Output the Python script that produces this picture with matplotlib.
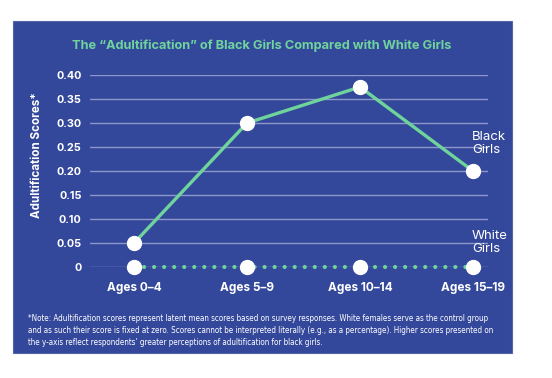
import matplotlib
matplotlib.use("Agg")
import matplotlib.pyplot as plt
from matplotlib.patches import Rectangle

# data
age_groups = ["Ages 0\u20134", "Ages 5\u20139", "Ages 10\u201314", "Ages 15\u201319"]
black_girls = [0.05, 0.30, 0.375, 0.20]
white_girls = [0.0, 0.0, 0.0, 0.0]
y_ticks = [0.0, 0.05, 0.10, 0.15, 0.20, 0.25, 0.30, 0.35, 0.40]
y_tick_labels = ["0", "0.05", "0.10", "0.15", "0.20", "0.25", "0.30", "0.35", "0.40"]

note = ("*Note: Adultification scores represent latent mean scores based on survey responses. White females serve as the control group\n"
        "and as such their score is fixed at zero. Scores cannot be interpreted literally (e.g., as a percentage). Higher scores presented on\n"
        "the y-axis reflect respondents\u2019 greater perceptions of adultification for black girls.")

BLUE = "#34489b"
GREEN = "#6fd49b"
GRID = "#8d97c9"

plt.rcParams['font.family'] = ['Inter', 'DejaVu Sans']

fig = plt.figure(figsize=(5.52, 3.78), dpi=100)
fig.patch.set_facecolor("white")
fig.patches.append(Rectangle((13 / 552, 25 / 378), 499 / 552, 332 / 378,
                             transform=fig.transFigure, facecolor=BLUE,
                             edgecolor="#5565aa", lw=0.8, zorder=-10))

ax = fig.add_axes([90 / 552, 111 / 378, 398 / 552, 192 / 378])
ax.set_facecolor("none")
x = list(range(len(age_groups)))

ax.plot(x, black_girls, color=GREEN, lw=2.4, zorder=3, clip_on=False)
ax.plot(x, white_girls, color=GREEN, lw=3.0, ls=(0, (0.01, 2.4)),
        dash_capstyle="round", zorder=3, clip_on=False)
ax.plot(x, black_girls, "o", ms=10, mfc="white", mec="white", zorder=4, clip_on=False)
ax.plot(x, white_girls, "o", ms=10, mfc="white", mec="white", zorder=4, clip_on=False)

ax.set_xlim(-0.39, 3.133)
ax.set_ylim(0, 0.40)
ax.set_yticks(y_ticks)
ax.set_yticklabels(y_tick_labels)
ax.set_xticks(x)
ax.set_xticklabels(age_groups)
ax.grid(axis="y", color=GRID, lw=1)
ax.set_axisbelow(True)
for s in ax.spines.values():
    s.set_visible(False)
ax.tick_params(length=0, colors="white")
ax.tick_params(axis="y", pad=6, labelsize=7.8)
ax.tick_params(axis="x", pad=11, labelsize=8.5)
for lab in ax.get_xticklabels() + ax.get_yticklabels():
    lab.set_fontweight("bold")

ax.set_ylabel("Adultification Scores*", color="white", fontsize=8.3,
              fontweight="bold")
ax.yaxis.set_label_coords(-0.118, 0.583)

ax.text(3 - 0.01, 0.283, "Black\nGirls", color="white", fontsize=9.5,
        ha="left", va="top", linespacing=1.1)
ax.text(3 - 0.01, 0.077, "White\nGirls", color="white", fontsize=9.5,
        ha="left", va="top", linespacing=1.1)

fig.text(262 / 552, 1 - 46 / 378, "The \u201cAdultification\u201d of Black Girls Compared with White Girls",
         color=GREEN, fontsize=9.2, fontweight="bold", ha="center", va="center")

fig.text(28 / 552, 1 - 314 / 378, note, color="white", fontsize=5.8,
         ha="left", va="top", linespacing=1.45,
         family="DejaVu Sans", fontstretch="condensed")

fig.savefig("out.png", dpi=100, facecolor="white")
